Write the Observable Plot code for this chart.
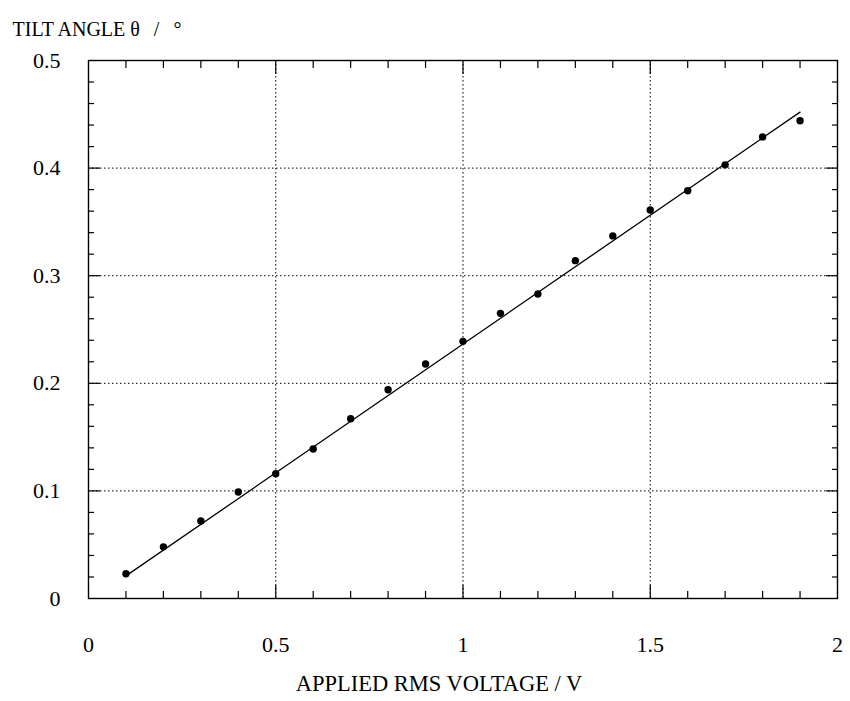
<!DOCTYPE html>
<html>
<head>
<meta charset="utf-8">
<script src="https://cdn.jsdelivr.net/npm/d3@7"></script>
<script src="https://cdn.jsdelivr.net/npm/@observablehq/plot@0.6"></script>
<style>
  html, body { margin: 0; padding: 0; background: #fff; }
</style>
</head>
<body>
<div id="chart"></div>
<script>
// Measured points
const voltage = [0.1, 0.2, 0.3, 0.4, 0.5, 0.6, 0.7, 0.8, 0.9, 1.0, 1.1, 1.2, 1.3, 1.4, 1.5, 1.6, 1.7, 1.8, 1.9];
const tilt = [0.023, 0.048, 0.072, 0.099, 0.116, 0.139, 0.167, 0.194, 0.218, 0.239, 0.265, 0.283, 0.314, 0.337, 0.361, 0.379, 0.403, 0.429, 0.444];
// Fitted straight line end points
const fitVoltage = [0.1, 1.9];
const fitTilt = [0.021, 0.452];
// Ticks and labels
const xLabelTicks = [0, 0.5, 1, 1.5, 2];
const yLabelTicks = [0, 0.1, 0.2, 0.3, 0.4, 0.5];
const xMinorTicks = [0.1, 0.2, 0.3, 0.4, 0.6, 0.7, 0.8, 0.9, 1.1, 1.2, 1.3, 1.4, 1.6, 1.7, 1.8, 1.9];
const xMajorTicks = [0.5, 1, 1.5];
const yMinorTicks = [0.02, 0.04, 0.06, 0.08, 0.12, 0.14, 0.16, 0.18, 0.22, 0.24, 0.26, 0.28, 0.32, 0.34, 0.36, 0.38, 0.42, 0.44, 0.46, 0.48];
const yMajorTicks = [0.1, 0.2, 0.3, 0.4];
const xGrid = [0.5, 1, 1.5];
const yGrid = [0.1, 0.2, 0.3, 0.4];
const xTitle = "APPLIED RMS VOLTAGE / V";
const yTitle = "TILT ANGLE θ\u2002\u2009/\u2002\u2009°";

const points = voltage.map((v, i) => ({v, t: tilt[i]}));
const fit = fitVoltage.map((v, i) => ({v, t: fitTilt[i]}));
const noText = () => "";

const chart = Plot.plot({
  width: 850,
  height: 701,
  marginLeft: 88,
  marginRight: 13,
  marginTop: 60,
  marginBottom: 103,
  style: {fontFamily: "'Liberation Serif', 'DejaVu Serif', serif", fontSize: "22px", color: "#000", background: "#fff"},
  x: {domain: [0, 2]},
  y: {domain: [0, 0.5]},
  marks: [
    Plot.ruleX(xGrid, {stroke: "#000", strokeWidth: 1, strokeDasharray: "1.5,2.5"}),
    Plot.ruleY(yGrid, {stroke: "#000", strokeWidth: 1, strokeDasharray: "1.5,2.5"}),
    // inward minor ticks
    Plot.axisX({anchor: "bottom", ticks: xMinorTicks, tickSize: -7, tickFormat: noText, label: null, strokeWidth: 1.2}),
    Plot.axisX({anchor: "top", ticks: xMinorTicks, tickSize: -7, tickFormat: noText, label: null, strokeWidth: 1.2}),
    Plot.axisY({anchor: "left", ticks: yMinorTicks, tickSize: -6, tickFormat: noText, label: null, strokeWidth: 1.2}),
    Plot.axisY({anchor: "right", ticks: yMinorTicks, tickSize: -6, tickFormat: noText, label: null, strokeWidth: 1.2}),
    // inward major ticks
    Plot.axisX({anchor: "bottom", ticks: xMajorTicks, tickSize: -13, tickFormat: noText, label: null, strokeWidth: 1.2}),
    Plot.axisX({anchor: "top", ticks: xMajorTicks, tickSize: -13, tickFormat: noText, label: null, strokeWidth: 1.2}),
    Plot.axisY({anchor: "left", ticks: yMajorTicks, tickSize: -12, tickFormat: noText, label: null, strokeWidth: 1.2}),
    Plot.axisY({anchor: "right", ticks: yMajorTicks, tickSize: -12, tickFormat: noText, label: null, strokeWidth: 1.2}),
    // tick labels
    Plot.axisX({anchor: "bottom", ticks: xLabelTicks, tickSize: 0, tickPadding: 38, tickFormat: d => String(d), label: null, fontSize: 22}),
    Plot.axisY({anchor: "left", ticks: yLabelTicks, tickSize: 0, tickPadding: 28, tickFormat: d => String(d), label: null, fontSize: 22}),
    Plot.frame({stroke: "#000", strokeWidth: 1.4}),
    Plot.line(fit, {x: "v", y: "t", stroke: "#000", strokeWidth: 1.3}),
    Plot.dot(points, {x: "v", y: "t", r: 3.7, fill: "#000", stroke: "none"}),
    Plot.text([xTitle], {frameAnchor: "bottom", dx: -24, dy: 92, fontSize: 22.5, fill: "#000", text: d => d}),
    Plot.text([yTitle], {frameAnchor: "top-left", dx: -76, dy: -39, textAnchor: "start", fontSize: 20, fill: "#000", text: d => d})
  ]
});
document.getElementById("chart").appendChild(chart);
</script>
</body>
</html>
